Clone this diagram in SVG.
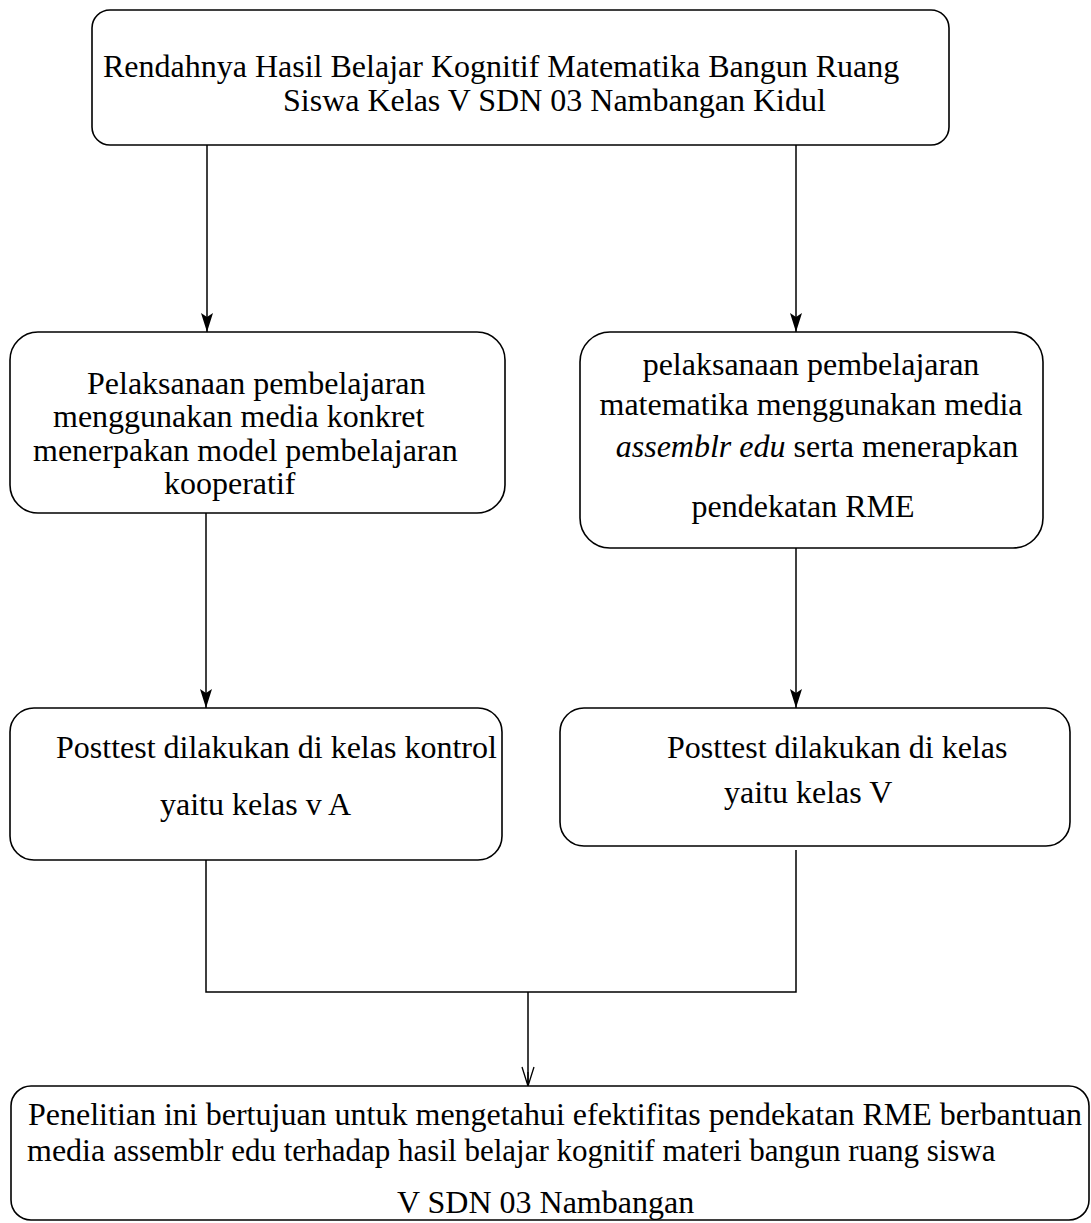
<svg xmlns="http://www.w3.org/2000/svg" width="1091" height="1223" viewBox="0 0 1091 1223">
<defs>
<style>
.box{fill:#fff;stroke:#000;stroke-width:1.6}
.t{font-family:"Liberation Serif","Times New Roman",serif;font-size:32px;fill:#000}
.c{fill:none;stroke:#000;stroke-width:1.5}
.ah{fill:#000}
</style>
</defs>
<rect width="1091" height="1223" fill="#fff"/>

<g id="connectors">
<line class="c" x1="207" y1="145" x2="207" y2="332"/>
<path class="ah" d="M201,313 L207,317 L213,313 L207,332 Z"/>
<line class="c" x1="796" y1="145" x2="796" y2="332"/>
<path class="ah" d="M790,313 L796,317 L802,313 L796,332 Z"/>
<line class="c" x1="206" y1="513" x2="206" y2="708"/>
<path class="ah" d="M200,689 L206,693 L212,689 L206,708 Z"/>
<line class="c" x1="796" y1="529" x2="796" y2="708"/>
<path class="ah" d="M790,689 L796,693 L802,689 L796,708 Z"/>
<polyline class="c" points="206,850 206,992 796,992 796,850"/>
<line class="c" x1="528" y1="992" x2="528" y2="1086"/>
<path d="M522,1067 L528,1086 L534,1067 M528,1072 L528,1086" fill="none" stroke="#000" stroke-width="1.3"/>
</g>

<g id="n1">
<rect class="box" x="92" y="10" width="857" height="135" rx="18"/>
<text class="t" x="103" y="77">Rendahnya Hasil Belajar Kognitif Matematika Bangun Ruang</text>
<text class="t" x="283" y="111">Siswa Kelas V SDN 03 Nambangan Kidul</text>
</g>

<g id="n2">
<rect class="box" x="10" y="332" width="495" height="181" rx="28"/>
<text class="t" x="87" y="394" font-size="33px">Pelaksanaan pembelajaran</text>
<text class="t" x="53" y="427" font-size="33px">menggunakan media konkret</text>
<text class="t" x="33" y="461" font-size="33px">menerpakan model pembelajaran</text>
<text class="t" x="164" y="494" font-size="33px">kooperatif</text>
</g>

<g id="n3">
<rect class="box" x="580" y="332" width="463" height="216" rx="30"/>
<text class="t" x="811" y="375" text-anchor="middle">pelaksanaan pembelajaran</text>
<text class="t" x="811" y="415" text-anchor="middle">matematika menggunakan media</text>
<text class="t" x="817" y="457" text-anchor="middle"><tspan font-style="italic">assemblr edu</tspan> serta menerapkan</text>
<text class="t" x="803" y="517" text-anchor="middle">pendekatan RME</text>
</g>

<g id="n4">
<rect class="box" x="10" y="708" width="492" height="152" rx="24"/>
<text class="t" x="56" y="758">Posttest dilakukan di kelas kontrol</text>
<text class="t" x="160" y="815">yaitu kelas v A</text>
</g>

<g id="n5">
<rect class="box" x="560" y="708" width="510" height="138" rx="24"/>
<text class="t" x="667" y="758">Posttest dilakukan di kelas</text>
<text class="t" x="724" y="803">yaitu kelas V</text>
</g>

<g id="n6">
<rect class="box" x="11" y="1086" width="1078" height="134" rx="20"/>
<text class="t" x="28" y="1125">Penelitian ini bertujuan untuk mengetahui efektifitas pendekatan RME berbantuan</text>
<text class="t" x="27" y="1161">media <tspan font-size="31px">assemblr edu terhadap hasil belajar kognitif materi bangun ruang siswa</tspan></text>
<text class="t" x="397" y="1213" font-size="31px">V SDN 03 Nambangan</text>
</g>
</svg>
